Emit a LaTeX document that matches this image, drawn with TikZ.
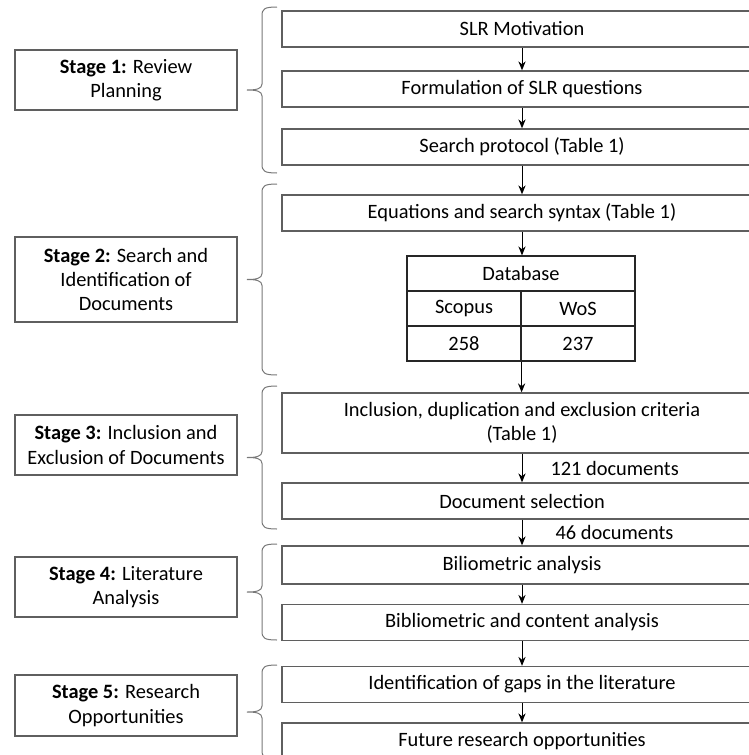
\documentclass[tikz,border=0pt]{standalone}
\usepackage{fontspec}
\setmainfont{Carlito}
\usepackage{tikz}
\usetikzlibrary{arrows.meta,positioning}
\definecolor{boxGray}{RGB}{95,95,95}
\definecolor{braceGray}{RGB}{120,120,120}
% left curly brace, tip in the middle
\newcommand{\stagebrace}[2]{%
  \draw[braceGray, line width=0.5pt]
    (277,#1) .. controls (264,#1) and (262,#1+2) .. (262,#1+9)
    -- (262,{(#1+#2)/2-6})
    .. controls (262,{(#1+#2)/2-1}) and (256,{(#1+#2)/2}) .. (247,{(#1+#2)/2})
    .. controls (256,{(#1+#2)/2}) and (262,{(#1+#2)/2+1}) .. (262,{(#1+#2)/2+6})
    -- (262,#2-9)
    .. controls (262,#2-2) and (264,#2) .. (277,#2);}

\begin{document}
\begin{tikzpicture}[x=0.5pt, y=-0.5pt,
  every node/.style={font=\fontsize{10.2}{12.2}\selectfont, text=black},
  stepbox/.style={draw=boxGray, line width=0.65pt, minimum width=240pt, minimum height=18pt, inner sep=0pt, align=center},
  stagebox/.style={draw=boxGray, line width=0.65pt, minimum width=111pt, inner sep=0pt, align=center},
  cell/.style={draw=black!85, line width=0.6pt, minimum width=57pt, minimum height=17.5pt, inner sep=0pt},
  arr/.style={-{Stealth[length=4.5pt,width=3.6pt]}, line width=0.5pt, black},
  count/.style={inner sep=0pt, anchor=west}]

%
\useasboundingbox (0,0) rectangle (749,755);

%
\node[stagebox, minimum height=30pt] (stage1) at (126,80) {\textbf{Stage 1:} Review\\Planning};
\node[stagebox, minimum height=42.5pt] (stage2) at (126,279.5) {\textbf{Stage 2:} Search and\\Identification of\\Documents};
\node[stagebox, minimum height=30pt] (stage3) at (126,445) {\textbf{Stage 3:} Inclusion and\\Exclusion of Documents};
\node[stagebox, minimum height=30pt] (stage4) at (126,587) {\textbf{Stage 4:} Literature\\Analysis};
\node[stagebox, minimum height=30.5pt] (stage5) at (126,705.5) {\textbf{Stage 5:} Research\\Opportunities};

%
\stagebrace{7}{173}
\stagebrace{184}{375}
\stagebrace{386}{529}
\stagebrace{544}{640}
\stagebrace{665}{759}

%
\node[stepbox] (motiv) at (522,29) {SLR Motivation};
\node[stepbox] (questions) at (522,89) {Formulation of SLR questions};
\node[stepbox] (protocol) at (522,147) {Search protocol (Table 1)};
\node[stepbox] (syntax) at (522,213) {Equations and search syntax (Table 1)};

%
\node[cell, minimum width=114pt] (db) at (521,273.5) {Database};
\node[cell] (scopus) at (464,308.5) {Scopus};
\node[cell] (wos) at (578,308.5) {WoS};
\node[cell] (nscopus) at (464,343.5) {258};
\node[cell] (nwos) at (578,343.5) {237};

%
\node[stepbox, minimum height=30pt] (criteria) at (522,423) {Inclusion, duplication and exclusion criteria\\(Table 1)};
\node[stepbox] (selection) at (522,501) {Document selection};
\node[stepbox, minimum height=19pt] (biblio) at (522,565) {Biliometric analysis};
\node[stepbox] (content) at (522,622.5) {Bibliometric and content analysis};
\node[stepbox] (gaps) at (522,684.5) {Identification of gaps in the literature};
\node[stepbox] (future) at (522,741) {Future research opportunities};

%
\draw[arr] (motiv) -- (questions);
\draw[arr] (questions) -- (protocol);
\draw[arr] (protocol) -- (syntax);
\draw[arr] (syntax.south) -- (syntax.south |- db.north);
\draw[arr] (nscopus.south east) -- (nscopus.south east |- criteria.north);
\draw[arr] (criteria) -- node[count, xshift=14pt] {121 documents} (selection);
\draw[arr] (selection) -- node[count, xshift=16.5pt] {46 documents} (biblio);
\draw[arr] (biblio) -- (content);
\draw[arr] (content) -- (gaps);
\draw[arr] (gaps) -- (future);

\end{tikzpicture}
\end{document}
